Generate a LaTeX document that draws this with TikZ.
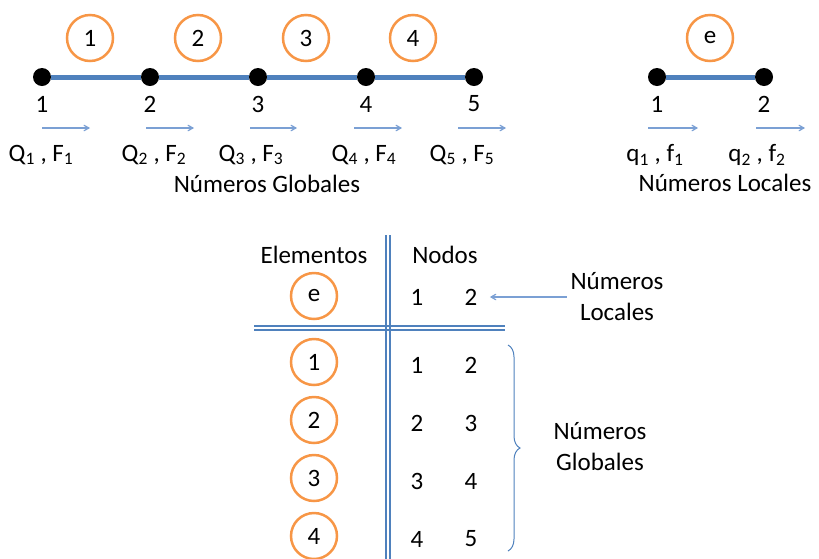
\documentclass[tikz,border=0pt]{standalone}
\usepackage{fontspec}
\setmainfont{Carlito}
\usepackage{xcolor}
\usetikzlibrary{arrows,decorations.pathreplacing}
\definecolor{barblue}{HTML}{4F81BD}
\definecolor{forceblue}{HTML}{7BA0D4}
\definecolor{elemorange}{HTML}{F79646}
\tikzset{
	dot/.style={circle,fill=black,inner sep=0pt,minimum size=18pt},
	elem/.style={circle,draw=elemorange,line width=2.5pt,minimum size=46pt,inner sep=0pt},
	bar/.style={draw=barblue,line width=5pt},
	force/.style={->,>=angle 60,draw=forceblue,line width=1.2pt},
	rule/.style={draw=barblue,line width=1.4pt},
}

\begin{document}
\begin{tikzpicture}[x=1pt,y=-1pt,font=\fontsize{25}{31}\selectfont]
		\useasboundingbox (0,0) rectangle (819,558);
		% global mesh
		\node[dot] (g1) at (42,77) {};
		\node[dot] (g2) at (150,77) {};
		\node[dot] (g3) at (258,77) {};
		\node[dot] (g4) at (366,77) {};
		\node[dot] (g5) at (474,77) {};
		\draw[bar] (g1) -- (g2) -- (g3) -- (g4) -- (g5);
		%
		\node[elem] (E1) at (90,38) {1};
		\node[elem] (E2) at (198,38) {2};
		\node[elem] (E3) at (306,38) {3};
		\node[elem] (E4) at (413,38) {4};
		%
		\node (n1) at (42,104) {1};
		\node (n2) at (150,104) {2};
		\node (n3) at (258,104) {3};
		\node (n4) at (366,104) {4};
		\node (n5) at (474,104) {5};
		%
		\coordinate (a1) at (42,128);  \coordinate (b1) at (90,128);
		\coordinate (a2) at (146,128); \coordinate (b2) at (194,128);
		\coordinate (a3) at (250,128); \coordinate (b3) at (297,128);
		\coordinate (a4) at (354,128); \coordinate (b4) at (402,128);
		\coordinate (a5) at (458,128); \coordinate (b5) at (506,128);
		\draw[force] (a1) -- (b1);
		\draw[force] (a2) -- (b2);
		\draw[force] (a3) -- (b3);
		\draw[force] (a4) -- (b4);
		\draw[force] (a5) -- (b5);
		%
		\node (QF1) at (41,155) {Q\textsubscript{1} , F\textsubscript{1}};
		\node (QF2) at (154,155) {Q\textsubscript{2} , F\textsubscript{2}};
		\node (QF3) at (251,155) {Q\textsubscript{3} , F\textsubscript{3}};
		\node (QF4) at (364,155) {Q\textsubscript{4} , F\textsubscript{4}};
		\node (QF5) at (462,155) {Q\textsubscript{5} , F\textsubscript{5}};
		\node (glob) at (267,184) {Números Globales};
		% local element
		\node[dot] (l1) at (657,77) {};
		\node[dot] (l2) at (764,77) {};
		\draw[bar] (l1) -- (l2);
		\node[elem] (Ee) at (710,38) {e};
		\node (m1) at (657,104) {1};
		\node (m2) at (764,104) {2};
		\coordinate (c1) at (648,128); \coordinate (d1) at (698,128);
		\coordinate (c2) at (756,128); \coordinate (d2) at (805,128);
		\draw[force] (c1) -- (d1);
		\draw[force] (c2) -- (d2);
		\node (qf1) at (655,155) {q\textsubscript{1} , f\textsubscript{1}};
		\node (qf2) at (757,155) {q\textsubscript{2} , f\textsubscript{2}};
		\node (loc) at (725,183) {Números Locales};
		% connectivity table
		\draw[rule] (386,235) -- (386,560);
		\draw[rule] (390,235) -- (390,560);
		\draw[rule] (254,326) -- (505,326);
		\draw[rule] (254,330) -- (505,330);
		\node (hel) at (314,255) {Elementos};
		\node (hno) at (445,255) {Nodos};
		%
		\node[elem] (Te) at (314,296) {e};
		\node (te1) at (417,297) {1};
		\node (te2) at (471,297) {2};
		\node[align=center] (tloc) at (617,297) {Números\\Locales};
		\draw[force,shorten >=9pt] (tloc.west) -- (te2.east);
		%
		\node[elem] (T1) at (314,362) {1};
		\node[elem] (T2) at (314,420) {2};
		\node[elem] (T3) at (314,478) {3};
		\node[elem] (T4) at (314,536) {4};
		\node (t11) at (417,365) {1}; \node (t12) at (471,365) {2};
		\node (t21) at (417,423) {2}; \node (t22) at (471,423) {3};
		\node (t31) at (417,481) {3}; \node (t32) at (471,481) {4};
		\node (t41) at (417,539) {4}; \node (t42) at (471,539) {5};
		%
		\coordinate (bt) at (508,345);
		\coordinate (bb) at (508,551);
		\draw[draw=barblue,line width=1pt,decorate,decoration={brace,amplitude=12pt}] (bt) -- (bb);
		\node[align=center] (tglob) at (600,447) {Números\\Globales};
	\end{tikzpicture}
\end{document}
